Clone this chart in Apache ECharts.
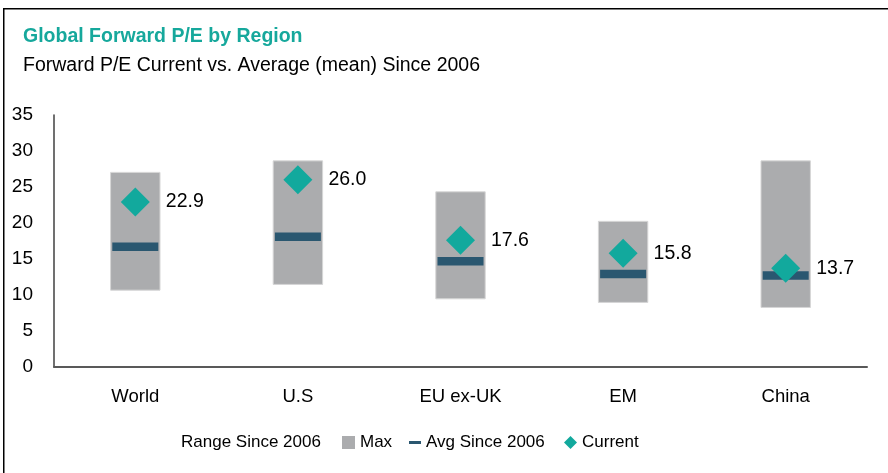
<!DOCTYPE html>
<html>
<head>
<meta charset="utf-8">
<script src="https://cdn.jsdelivr.net/npm/echarts@6/dist/echarts.min.js"></script>
<style>
html,body{margin:0;padding:0;background:#fff;}
#c{width:888px;height:473px;}
</style>
</head>
<body>
<div id="c"></div>
<script>
var categories = ['World', 'U.S', 'EU ex-UK', 'EM', 'China'];
var rangeMin = [10.6, 11.4, 9.4, 8.9, 8.2];
var rangeMax = [27.1, 28.7, 24.4, 20.3, 28.7];
var avgSince2006 = [16.7, 18.1, 14.7, 12.9, 12.7];
var current = [22.9, 26.0, 17.6, 15.8, 13.7];
var yTicks = [0, 5, 10, 15, 20, 25, 30, 35];

var FONT = '"Liberation Sans", Arial, sans-serif';
var chart = echarts.init(document.getElementById('c'), null, {renderer: 'canvas'});

var rangeSpan = rangeMax.map(function (v, i) { return +(v - rangeMin[i]).toFixed(2); });

var legendText = {fontFamily: FONT, fontSize: 17, color: '#000'};

chart.setOption({
  animation: false,
  backgroundColor: '#fff',
  title: [
    {text: 'Global Forward P/E by Region', left: 18, top: 22,
     textStyle: {fontFamily: FONT, fontSize: 19.5, fontWeight: 'bold', color: '#16A89C'}},
    {text: 'Forward P/E Current vs. Average (mean) Since 2006', left: 18, top: 51,
     textStyle: {fontFamily: FONT, fontSize: 19.5, fontWeight: 'normal', color: '#000'}}
  ],
  graphic: [
    {type: 'line', shape: {x1: 3.5, y1: 8.75, x2: 888, y2: 8.75}, style: {stroke: '#000', lineWidth: 1.5}},
    {type: 'line', shape: {x1: 3.75, y1: 8, x2: 3.75, y2: 473}, style: {stroke: '#000', lineWidth: 1.5}}
  ],
  legend: [
    {data: [{name: 'Range Since 2006', icon: 'none'}], left: 170, top: 429, itemWidth: 1, itemHeight: 14, textStyle: legendText, selectedMode: false},
    {data: [{name: 'Max', icon: 'rect'}], left: 337, top: 429, itemWidth: 13, itemHeight: 13, textStyle: legendText, selectedMode: false,
     itemStyle: {color: '#ABACAE', borderWidth: 0}},
    {data: [{name: 'Avg Since 2006', icon: 'rect'}], left: 404, top: 429, itemWidth: 12, itemHeight: 3, textStyle: legendText, selectedMode: false},
    {data: [{name: 'Current', icon: 'diamond'}], left: 559, top: 429, itemWidth: 13, itemHeight: 13, textStyle: legendText, selectedMode: false}
  ],
  grid: {left: 54, right: 21, top: 115, bottom: 106, containLabel: false},
  xAxis: {
    type: 'category',
    data: categories,
    axisLine: {show: true, lineStyle: {color: '#595959', width: 2}},
    axisTick: {show: false},
    axisLabel: {fontFamily: FONT, fontSize: 18.5, color: '#000', margin: 20}
  },
  yAxis: {
    type: 'value',
    min: 0, max: 35, interval: 5,
    axisLine: {show: true, lineStyle: {color: '#404040', width: 1.5}},
    axisTick: {show: false},
    splitLine: {show: false},
    axisLabel: {fontFamily: FONT, fontSize: 19, color: '#000', margin: 21,
      formatter: function (v) { return yTicks.indexOf(v) >= 0 ? String(v) : ''; }}
  },
  series: [
    {name: 'Range Since 2006', type: 'bar', stack: 'r', barWidth: '31%', data: rangeMin,
     itemStyle: {color: 'rgba(0,0,0,0)'}, silent: true},
    {name: 'Max', type: 'bar', stack: 'r', barWidth: '31%', data: rangeSpan,
     itemStyle: {color: '#ABACAE', borderColor: '#D6D6D6', borderWidth: 1}},
    {name: 'Avg Since 2006', type: 'scatter', data: avgSince2006, symbol: 'rect', symbolSize: [46, 8.5],
     itemStyle: {color: '#2A5770', opacity: 1}, z: 3},
    {name: 'Current', type: 'scatter', data: current, symbol: 'diamond', symbolSize: 29,
     itemStyle: {color: '#12A99D', opacity: 1}, z: 4,
     label: {show: true, position: 'right', distance: 16, fontFamily: FONT, fontSize: 19.5, color: '#000',
       formatter: function (p) { return p.value.toFixed(1); }}}
  ]
});
</script>
</body>
</html>
